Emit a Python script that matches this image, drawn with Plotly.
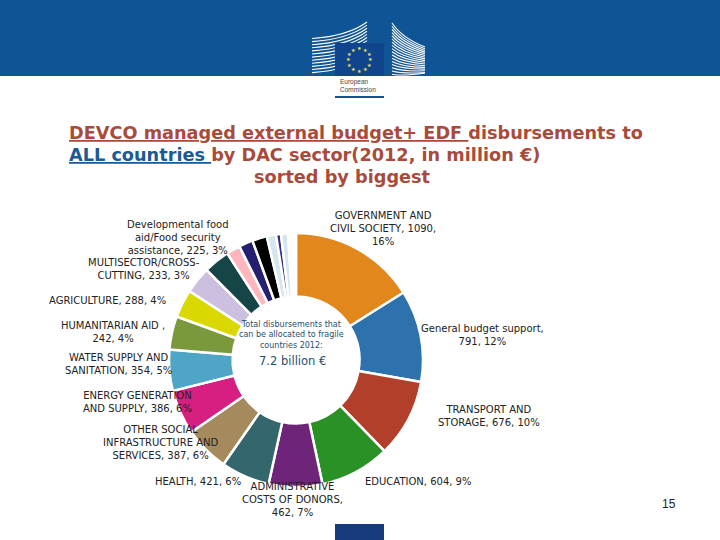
import math

import plotly.graph_objects as go

W, H = 720, 540

sectors = ["Government and civil society", "General budget support", "Transport and storage",
           "Education", "Administrative costs of donors", "Health",
           "Other social infrastructure and services", "Energy generation and supply",
           "Water supply and sanitation", "Agriculture", "Humanitarian aid",
           "Multisector/cross-cutting", "Developmental food aid/Food security assistance",
           "Other 1", "Other 2", "Other 3", "Other 4", "Other 5", "Other 6", "Other 7"]
values = [1090, 791, 676, 604, 462, 421, 387, 386, 354, 288, 242, 233, 225,
          119, 121, 127, 79, 43, 60, 68]
colors = ["#e2871b", "#2e72ad", "#b23f29", "#2a9127", "#6e2478", "#33676d", "#a58a5e",
          "#d61f80", "#4ea5c6", "#7a993c", "#d9d800", "#cdbfe0", "#164548",
          "#ffb6bd", "#24206f", "#000000", "#d4e6ee", "#34308a", "#d4e6ee", "#ffffff"]

label_texts = ["GOVERNMENT AND<br>CIVIL SOCIETY, 1090,<br>16%",
               "General budget support,<br>791, 12%",
               "TRANSPORT AND<br>STORAGE, 676, 10%",
               "EDUCATION, 604, 9%",
               "ADMINISTRATIVE<br>COSTS OF DONORS,<br>462, 7%",
               "HEALTH, 421, 6%",
               "OTHER SOCIAL<br>INFRASTRUCTURE AND<br>SERVICES, 387, 6%",
               "ENERGY GENERATION<br>AND SUPPLY, 386, 6%",
               "WATER SUPPLY AND<br>SANITATION, 354, 5%",
               "HUMANITARIAN AID ,<br>242, 4%",
               "AGRICULTURE, 288, 4%",
               "MULTISECTOR/CROSS-<br>CUTTING, 233, 3%",
               "Developmental food<br>aid/Food security<br>assistance, 225, 3%"]
label_x = [383, 483, 489, 418, 292, 198, 160, 137, 118, 113, 107, 144, 178]
label_y = [228, 335, 416, 481, 499, 481, 442, 402, 364, 332, 300, 269, 237]

BLUE = "#0f5494"
TITLE_RED = "#a94b3b"


def px(x):
    return x / W


def py(y):
    return 1 - y / H


def note(text, x, y, size, color="#222222", anchor="center", family="DejaVu Sans"):
    return dict(text=text, x=px(x), y=py(y), xref="paper", yref="paper",
                xanchor=anchor, yanchor="middle", align=anchor,
                showarrow=False, font=dict(family=family, size=size, color=color))


def rect(x0, y0, x1, y1, color):
    return dict(type="rect", xref="paper", yref="paper", x0=px(x0), x1=px(x1),
                y0=py(y0), y1=py(y1), fillcolor=color, line_width=0, layer="above")


def curve(x0, y0, cx, cy, x1, y1):
    path = f"M {px(x0)} {py(y0)} Q {px(cx)} {py(cy)} {px(x1)} {py(y1)}"
    return dict(type="path", xref="paper", yref="paper", path=path,
                line=dict(color="white", width=1.1), layer="above")


fig = go.Figure()
fig.add_trace(go.Pie(
    labels=sectors,
    values=values,
    sort=False,
    direction="clockwise",
    rotation=0,
    hole=0.5,
    textinfo="none",
    marker=dict(colors=colors, line=dict(color="white", width=2.5)),
    domain=dict(x=[px(169), px(423)], y=[py(487), py(233)]),
    showlegend=False,
))

# header band and logo
shapes = [rect(0, 0, W, 76, BLUE)]
# left building
for i in range(12):
    shapes.append(curve(312, 38.5 + i * 3.1, 348, 36 + i * 3.1, 367, 22 + i * 3.1))
# right building
for i in range(17):
    y1 = min(47 + i * 1.7, 73)
    shapes.append(curve(392, 23 + i * 3.2, 402, 38 + i * 2.4, 425, y1))
shapes.append(rect(335, 43, 384, 76, "#10448c"))
shapes.append(rect(335, 96, 384, 98, BLUE))
# bottom blue block
shapes.append(rect(335, 524, 384, 540, "#173a7c"))

annotations = []
for i in range(12):
    a = 2 * math.pi * i / 12
    annotations.append(note("★", 359.5 + 11.5 * math.sin(a), 59.5 - 11.5 * math.cos(a), 5, "#e8e85a"))
annotations.append(note("European<br>Commission", 338, 85.5, 6.5, "#444444", anchor="left", family="Liberation Sans"))

# title
annotations.append(note("<b><u>DEVCO managed external budget+ EDF </u>disbursements to</b>",
                        67, 133, 17.7, TITLE_RED, anchor="left"))
annotations.append(note("<b><span style='color:#1a5a96'><u>ALL countries </u></span>by DAC sector(2012, in million €)</b>",
                        67, 155, 17.7, TITLE_RED, anchor="left"))
annotations.append(note("<b>sorted by biggest</b>", 342, 177, 17.7, TITLE_RED))

# slice labels
for text, x, y in zip(label_texts, label_x, label_y):
    annotations.append(note(text, x, y, 10))

# centre of the ring
annotations.append(note("Total disbursements that<br>can be allocated to fragile<br>countries 2012:",
                        291, 335, 8, "#1f4f70"))
annotations.append(note("7.2 billion €", 292, 361, 11.5, "#1f4f70"))

annotations.append(note("15", 669, 504, 12, "#222222", family="Liberation Sans"))

fig.update_layout(
    width=W,
    height=H,
    margin=dict(l=0, r=0, t=0, b=0),
    paper_bgcolor="white",
    shapes=shapes,
    annotations=annotations,
)

fig.write_html("out.html", config=dict(displayModeBar=False),
               post_script="document.body.style.margin='0';")
